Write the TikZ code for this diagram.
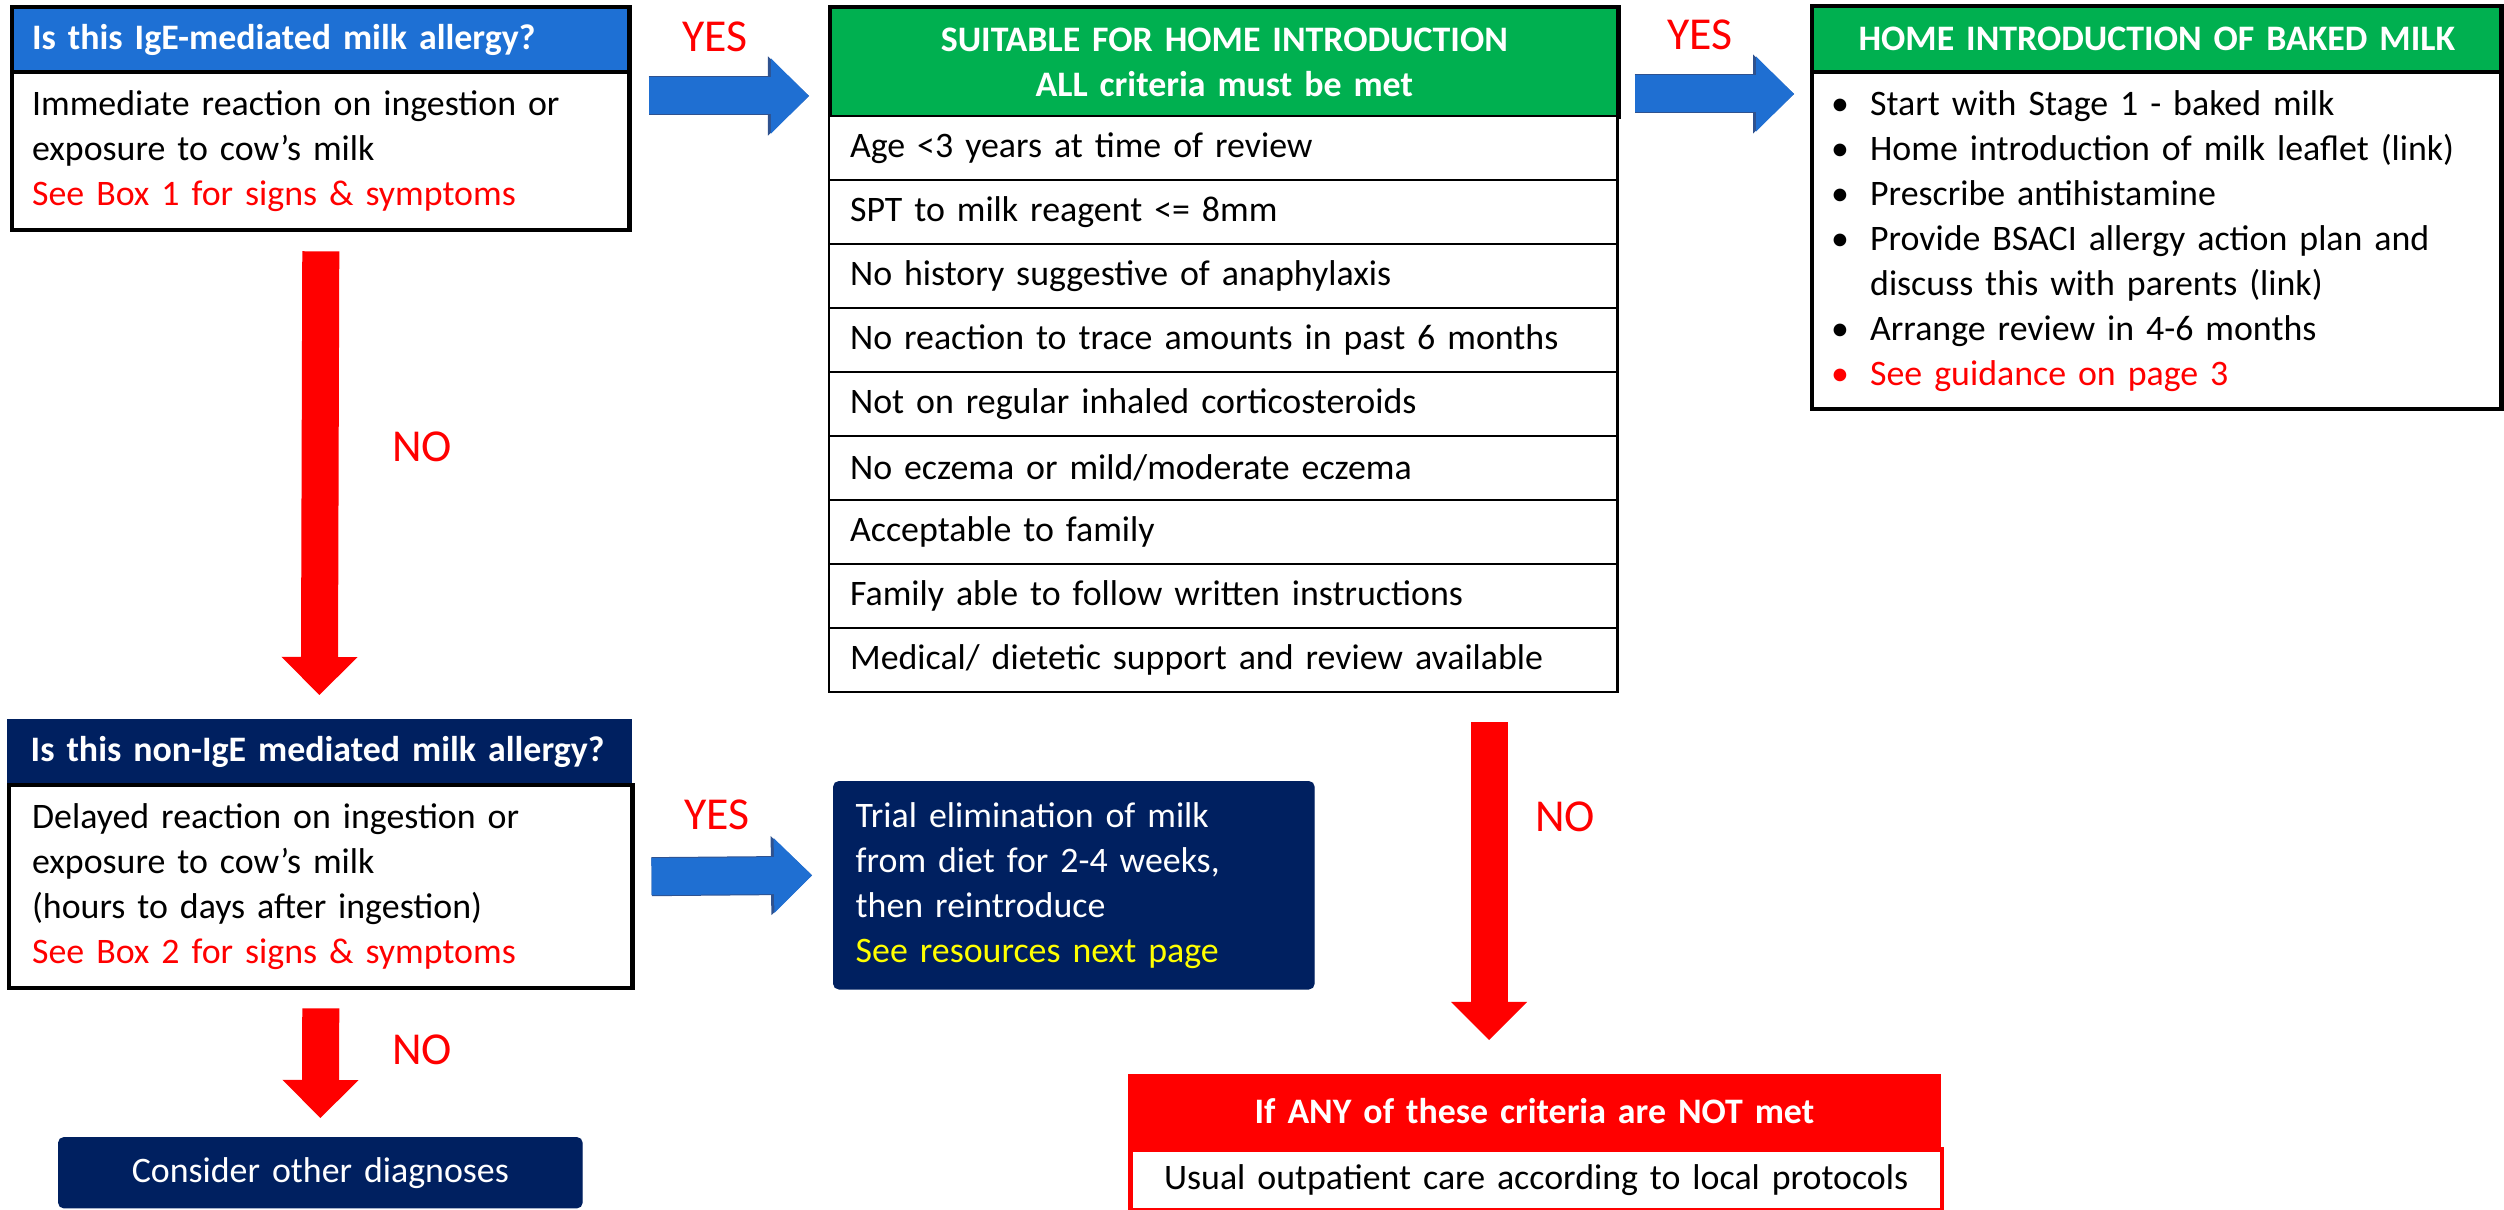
\documentclass[tikz,border=0pt]{standalone}
\usepackage{fontspec}
\setmainfont{Carlito}
\usepackage{tikz}
\usetikzlibrary{arrows.meta,calc}
\definecolor{igeblue}{RGB}{30,112,212}
\definecolor{navy}{RGB}{0,32,96}
\definecolor{okgreen}{RGB}{0,176,80}
\definecolor{arrblue}{RGB}{31,111,210}
\definecolor{arrline}{RGB}{47,82,143}
\definecolor{tipyellow}{RGB}{255,255,0}
\newcommand{\txtsz}{\fontsize{10.2}{12.8}\selectfont}
\newcommand{\lblsz}{\fontsize{13}{15}\selectfont}
\newcommand{\bul}{\makebox[0.33cm][l]{\hspace*{-0.06cm}\textbullet}}
\tikzstyle{hdige} = [draw=black, line width=1.2pt, fill=igeblue, text=white, font=\txtsz\bfseries, anchor=north west, inner xsep=0.2cm, inner ysep=0pt, align=left]
\tikzstyle{hdgreen} = [draw=black, line width=1.2pt, fill=okgreen, text=white, font=\txtsz\bfseries, anchor=north west, inner xsep=0.2cm, inner ysep=0pt, align=center]
\tikzstyle{hdnavy} = [draw=navy, line width=0.4pt, fill=navy, text=white, font=\txtsz\bfseries, anchor=north west, inner ysep=0pt, align=left]
\tikzstyle{hdred} = [draw=red, line width=0.4pt, fill=red, text=white, font=\txtsz\bfseries, anchor=north west, inner xsep=0.2cm, inner ysep=0pt, align=center]
\tikzstyle{bodywh} = [draw=black, line width=1.2pt, fill=white, font=\txtsz, anchor=north west, inner ysep=0pt, align=left]
\tikzstyle{critrow} = [draw=black, line width=0.6pt, fill=white, font=\txtsz, anchor=north west, inner xsep=0.21cm, inner ysep=0pt, text width=7.46cm, minimum height=0.64cm, align=left]
\tikzstyle{navybox} = [draw=navy, fill=navy, rounded corners=1.5pt, text=white, font=\txtsz, anchor=north west, inner ysep=0pt]
\tikzstyle{redbody} = [draw=red, line width=1.4pt, fill=white, font=\txtsz, anchor=north west, inner xsep=0.2cm, inner ysep=0pt, align=center]
\tikzstyle{lbl} = [text=red, font=\lblsz, inner sep=0pt]
\tikzstyle{yesarr} = [preaction={draw=arrline, line width=0.39cm, -{Triangle[length=0.41cm, width=0.79cm, line width=0pt]}}, line width=0.37cm, draw=arrblue, shorten <=0.01cm, shorten >=0.02cm, -{Triangle[length=0.38cm, width=0.75cm, line width=0pt]}]
\tikzstyle{noarr} = [line width=0.37cm, draw=red, -{Triangle[length=0.38cm, width=0.76cm, line width=0pt]}]

\begin{document}
\begin{tikzpicture}[x=0.01cm, y=-0.01cm]
        \useasboundingbox (0,0) rectangle (2504,1210);
        % IgE question
        \node[hdige, text width=5.77cm, minimum height=0.65cm] (igehd) at (10,5) {Is this IgE-mediated milk allergy?};
        \node[bodywh, text width=5.77cm, inner xsep=0.2cm, minimum height=1.58cm] (igebody) at (10,70) {Immediate reaction on ingestion or\\exposure to cow’s milk\\\textcolor{red}{See Box 1 for signs \& symptoms}};
        % criteria table
        \node[hdgreen, text width=7.48cm, minimum height=1.10cm] (crithd) at (828,5) {SUITABLE FOR HOME INTRODUCTION\\ALL criteria must be met};
        \node[critrow] (crit1) at (828,115) {Age <3 years at time of review};
        \node[critrow] (crit2) at (828,179) {SPT to milk reagent <= 8mm};
        \node[critrow] (crit3) at (828,243) {No history suggestive of anaphylaxis};
        \node[critrow] (crit4) at (828,307) {No reaction to trace amounts in past 6 months};
        \node[critrow] (crit5) at (828,371) {Not on regular inhaled corticosteroids};
        \node[critrow] (crit6) at (828,435) {No eczema or mild/moderate eczema};
        \node[critrow] (crit7) at (828,499) {Acceptable to family};
        \node[critrow] (crit8) at (828,563) {Family able to follow written instructions};
        \node[critrow] (crit9) at (828,627) {Medical/ dietetic support and review available};
        % home introduction
        \node[hdgreen, text width=6.49cm, minimum height=0.66cm] (homehd) at (1810,4) {HOME INTRODUCTION OF BAKED MILK};
        \node[bodywh, text width=6.39cm, inner xsep=0.25cm, minimum height=3.37cm] (homebody) at (1810,70) {\bul Start with Stage 1 - baked milk\\\bul Home introduction of milk leaflet (link)\\\bul Prescribe antihistamine\\\bul Provide BSACI allergy action plan and\\\hspace*{0.33cm}discuss this with parents (link)\\\bul Arrange review in 4-6 months\\\textcolor{red}{\bul See guidance on page 3}};
        % non-IgE question
        \node[hdnavy, text width=5.77cm, inner xsep=0.23cm, minimum height=0.64cm] (nonhd) at (7,719) {Is this non-IgE mediated milk allergy?};
        \node[bodywh, text width=5.77cm, inner xsep=0.23cm, minimum height=2.03cm] (nonbody) at (7,783) {Delayed reaction on ingestion or\\exposure to cow’s milk\\(hours to days after ingestion)\\\textcolor{red}{See Box 2 for signs \& symptoms}};
        \node[navybox, text width=4.36cm, inner xsep=0.22cm, minimum height=2.07cm, align=left] (trial) at (833,781) {Trial elimination of milk\\from diet for 2-4 weeks,\\then reintroduce\\\textcolor{tipyellow}{See resources next page}};
        \node[navybox, text width=4.83cm, inner xsep=0.2cm, minimum height=0.70cm, align=center] (consider) at (58,1137) {Consider other diagnoses};
        % criteria not met
        \node[hdred, text width=7.71cm, minimum height=0.73cm] (redhd) at (1128,1074) {If ANY of these criteria are NOT met};
        \node[redbody, text width=7.71cm, minimum height=0.61cm] (redbody) at (1128,1147) {Usual outpatient care according to local protocols};
        % arrows
        \draw[yesarr] ($(igebody.north east)+(16,26)$) -- ($(crithd.north west)+(-17,91)$);
        \draw[yesarr] ($(crithd.north east)+(13,89)$) -- ($(homehd.north west)+(-14,90)$);
        \draw[yesarr] ($(nonbody.east)+(16,-10)$) -- ($(trial.west)+(-19,-10)$);
        \draw[noarr] ($(igebody.south)+(0,19)$) -- ($(nonhd.north)+(0,-24)$);
        \draw[noarr] ($(nonbody.south)+(0,18)$) -- ($(consider.north)+(0,-19)$);
        \coordinate (nofrom) at ($(crit9.south west)+(661,29)$);
        \draw[noarr] (nofrom) -- ($(nofrom |- redhd.north)+(0,-34)$);
        \node[lbl] (yes1) at (715,37) {YES};
        \node[lbl] (yes2) at (1700,35) {YES};
        \node[lbl] (yes3) at (717,815) {YES};
        \node[lbl] (no1) at (422,447) {NO};
        \node[lbl] (no2) at (422,1050) {NO};
        \node[lbl] (no3) at (1565,817) {NO};
      \end{tikzpicture}
\end{document}
